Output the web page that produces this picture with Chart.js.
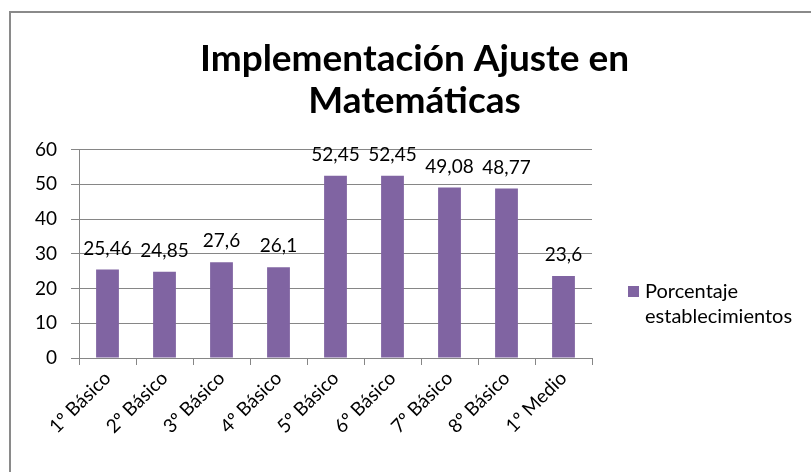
<!DOCTYPE html>
<html>
<head>
<meta charset="utf-8">
<script src="https://cdn.jsdelivr.net/npm/chart.js@4.4.1/dist/chart.umd.min.js"></script>
<style>
  html, body { margin: 0; padding: 0; background: #fff; }
  #frame { position: absolute; left: 9px; top: 11px; width: 900px; height: 600px;
           border-top: 2px solid #8a8a8a; border-left: 2px solid #8a8a8a; }
  #wrap { position: absolute; left: 0; top: 0; width: 811px; height: 472px; }
</style>
</head>
<body>
<div id="frame"></div>
<div id="wrap"><canvas id="c" width="811" height="472"></canvas></div>
<script>
const categories = ['1º Básico','2º Básico','3º Básico','4º Básico','5º Básico','6º Básico','7º Básico','8º Básico','1º Medio'];
const seriesName = 'Porcentaje establecimientos';
const seriesValues = [25.46, 24.85, 27.6, 26.1, 52.45, 52.45, 49.08, 48.77, 23.6];
const yTicks = [0, 10, 20, 30, 40, 50, 60];
const titleLines = ['Implementación Ajuste en', 'Matemáticas'];

const FONT = 'Lato, "Open Sans", sans-serif';
const BAR = '#8064A2';
const GRID = '#868686';

const valueLabels = {
  id: 'valueLabels',
  afterDatasetsDraw(chart) {
    const ctx = chart.ctx;
    const meta = chart.getDatasetMeta(0);
    ctx.save();
    ctx.font = '19px ' + FONT;
    ctx.fillStyle = '#000';
    ctx.textAlign = 'center';
    ctx.textBaseline = 'alphabetic';
    meta.data.forEach((bar, i) => {
      const v = chart.data.datasets[0].data[i];
      ctx.fillText(String(v).replace('.', ','), bar.x, bar.y - 15);
    });
    ctx.restore();
  }
};

const sideLegend = {
  id: 'sideLegend',
  afterDraw(chart) {
    const ctx = chart.ctx;
    const ds = chart.data.datasets[0];
    const words = ds.label.split(' ');
    ctx.save();
    ctx.fillStyle = ds.backgroundColor;
    ctx.fillRect(628, 286, 11, 11);
    ctx.font = '20px ' + FONT;
    ctx.fillStyle = '#000';
    ctx.textBaseline = 'alphabetic';
    ctx.textAlign = 'left';
    ctx.fillText(words[0], 645, 298);
    ctx.fillText(words.slice(1).join(' '), 645, 323);
    ctx.restore();
  }
};

new Chart(document.getElementById('c'), {
  type: 'bar',
  data: {
    labels: categories,
    datasets: [{
      label: seriesName,
      data: seriesValues,
      backgroundColor: BAR,
      borderWidth: 0,
      categoryPercentage: 1,
      barPercentage: 0.4
    }]
  },
  options: {
    responsive: false,
    animation: false,
    events: [],
    layout: { padding: { left: 18, right: 0, top: 0, bottom: 0 } },
    plugins: {
      legend: { display: false },
      tooltip: { enabled: false },
      title: {
        display: true,
        text: titleLines,
        color: '#000',
        font: { family: FONT, size: 37, weight: 'bold', lineHeight: 1.13 },
        padding: { top: 38, bottom: 28 }
      }
    },
    scales: {
      x: {
        grid: { display: true, drawOnChartArea: false, drawTicks: true, tickLength: 7, color: GRID, offset: true },
        border: { display: true, color: GRID, width: 1 },
        ticks: { color: '#000', font: { family: FONT, size: 19 }, maxRotation: 45, minRotation: 45, padding: 2 },
        afterFit(s) { s.height = 114; }
      },
      y: {
        min: 0, max: 60,
        afterBuildTicks(s) { s.ticks = yTicks.map(v => ({ value: v })); },
        grid: { color: GRID, tickLength: 8 },
        border: { display: true, color: GRID, width: 1 },
        ticks: { color: '#000', font: { family: FONT, size: 19 }, padding: 14 },
        afterFit(s) { s.width = 61; }
      },
      legendSpace: {
        type: 'linear',
        position: 'right',
        display: true,
        grid: { display: false },
        border: { display: false },
        ticks: { display: false },
        afterFit(s) { s.width = 219; }
      }
    }
  },
  plugins: [valueLabels, sideLegend]
});
</script>
</body>
</html>
